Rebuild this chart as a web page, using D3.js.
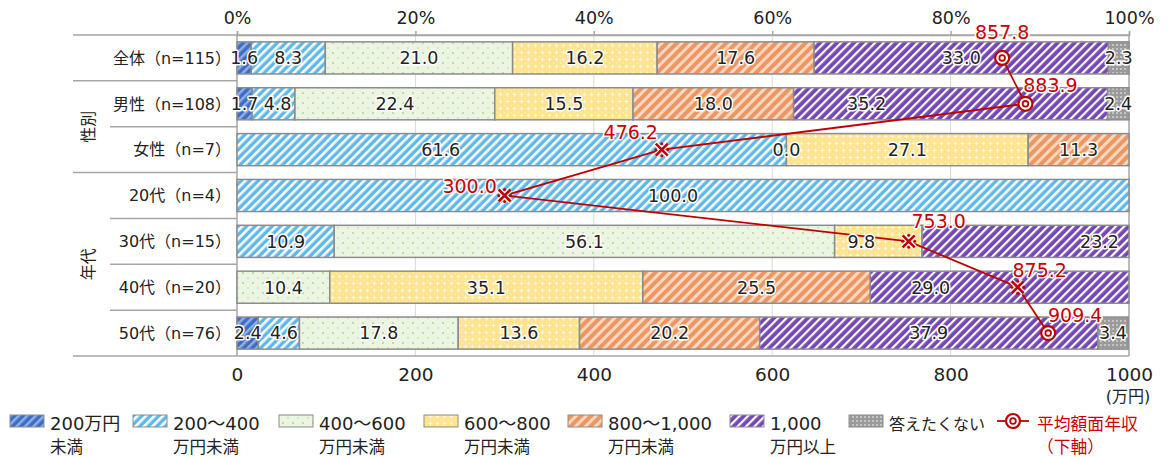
<!DOCTYPE html>
<html>
<head>
<meta charset="utf-8">
<script src="https://cdn.jsdelivr.net/npm/d3@7"></script>
<style>
body { margin: 0; background: #fff; }
text { font-family: "DejaVu Sans", "Noto Sans CJK JP", sans-serif; }
</style>
</head>
<body>
<div id="chart"></div>
<script>
let width = 1167;
let height = 457;

// data
let rowLabels = ["全体（n=115）", "男性（n=108）", "女性（n=7）", "20代（n=4）", "30代（n=15）", "40代（n=20）", "50代（n=76）"];
let under200 = [1.6, 1.7, null, null, null, null, 2.4];
let from200 = [8.3, 4.8, 61.6, 100.0, 10.9, null, 4.6];
let from400 = [21.0, 22.4, 0.0, null, 56.1, 10.4, 17.8];
let from600 = [16.2, 15.5, 27.1, null, 9.8, 35.1, 13.6];
let from800 = [17.6, 18.0, 11.3, null, null, 25.5, 20.2];
let over1000 = [33.0, 35.2, null, null, 23.2, 29.0, 37.9];
let noAnswer = [2.3, 2.4, null, null, null, null, 3.4];
let avgIncome = [857.8, 883.9, 476.2, 300.0, 753.0, 875.2, 909.4];
let markerType = ["double", "double", "asterisk", "asterisk", "asterisk", "asterisk", "double"];
let pctTicks = [0, 20, 40, 60, 80, 100];
let yenTicks = [0, 200, 400, 600, 800, 1000];
let legendLine1 = ["200万円", "200～400", "400～600", "600～800", "800～1,000", "1,000", "答えたくない"];
let legendLine2 = ["未満", "万円未満", "万円未満", "万円未満", "万円未満", "万円以上", ""];
let groups = [{name: "性別", from: 1, to: 2}, {name: "年代", from: 3, to: 6}];

let series = [under200, from200, from400, from600, from800, over1000, noAnswer];

// offsets of the red average labels from their markers
let avgLabelOffset = [[0, -26], [25, -19], [-31, -17], [-35, -9], [30, -20], [22, -17], [27, -18]];
// value labels that were moved by hand in the original (row-series: px)
let labelNudge = {"1-1": 4, "1-5": -84, "2-1": -71, "3-1": -10, "4-3": -17, "4-5": 74, "5-5": -69, "6-1": 5};
let legendX = [10, 133, 279, 424, 568, 730, 849];

let svg = d3.select("#chart").append("svg")
    .attr("width", width)
    .attr("height", height);

let defs = svg.append("defs");

function stripePattern(id, bg, fg, size, stripe){
    let p = defs.append("pattern")
        .attr("id", id)
        .attr("patternUnits", "userSpaceOnUse")
        .attr("width", size).attr("height", size)
        .attr("patternTransform", "rotate(45)");
    p.append("rect").attr("width", size).attr("height", size).attr("fill", bg);
    p.append("rect").attr("width", stripe).attr("height", size).attr("fill", fg);
}
stripePattern("p0", "#3e6cc4", "#8fb0e6", 6, 2.5);
stripePattern("p1", "#5db9ec", "#ffffff", 6, 2.6);
stripePattern("p4", "#ec9763", "#fbd7bf", 7, 3);
stripePattern("p5", "#7446b8", "#ffffff", 6, 2.2);

// dots on light green
let pg = defs.append("pattern").attr("id", "p2")
    .attr("patternUnits", "userSpaceOnUse").attr("width", 10).attr("height", 10);
pg.append("rect").attr("width", 10).attr("height", 10).attr("fill", "#ebf5e2");
pg.append("circle").attr("cx", 3).attr("cy", 3).attr("r", 0.9).attr("fill", "#a9d18e");
pg.append("circle").attr("cx", 8).attr("cy", 8).attr("r", 0.9).attr("fill", "#c3e0ae");

// lattice on yellow
let py = defs.append("pattern").attr("id", "p3")
    .attr("patternUnits", "userSpaceOnUse").attr("width", 7).attr("height", 7);
py.append("rect").attr("width", 7).attr("height", 7).attr("fill", "#ffe38f");
py.append("path").attr("d", "M3.5,1.5 L3.5,5.5 M1.5,3.5 L5.5,3.5").attr("stroke", "#fff7dc").attr("stroke-width", 1.2);
py.append("circle").attr("cx", 0).attr("cy", 0).attr("r", 1).attr("fill", "#fff7dc");

// dotted grey
let pgr = defs.append("pattern").attr("id", "p6")
    .attr("patternUnits", "userSpaceOnUse").attr("width", 4).attr("height", 4);
pgr.append("rect").attr("width", 4).attr("height", 4).attr("fill", "#9a9a9a");
pgr.append("rect").attr("x", 0).attr("y", 0).attr("width", 2).attr("height", 2).attr("fill", "#c4c4c4");

let xPct = d3.scaleLinear().domain([0, 100]).range([237, 1129]);
let xYen = d3.scaleLinear().domain([0, 1000]).range([237, 1129]);
let y = d3.scaleBand().domain(rowLabels).range([35, 356]).paddingInner(0.3).paddingOuter(0.15);
let step = y.step();
let rowTop = i => 35 + i * step;

// gridlines
svg.append("g").selectAll("line")
    .data(pctTicks.slice(1, -1))
    .enter().append("line")
    .attr("x1", d => xPct(d)).attr("x2", d => xPct(d))
    .attr("y1", 35).attr("y2", 356)
    .attr("stroke", "#d9d9d9").attr("stroke-width", 1);

// table lines on the left
let fullLines = [0, 1, 3, 7];
for(let i = 0; i <= rowLabels.length; i++){
    svg.append("line")
        .attr("x1", fullLines.includes(i) ? 73 : 110)
        .attr("x2", i == 0 || i == 7 ? 1129 : 237)
        .attr("y1", rowTop(i)).attr("y2", rowTop(i))
        .attr("stroke", "#a6a6a6").attr("stroke-width", 1.5);
}
svg.append("line").attr("x1", 237).attr("x2", 237).attr("y1", 35).attr("y2", 356)
    .attr("stroke", "#a6a6a6").attr("stroke-width", 1.5);
svg.append("line").attr("x1", 1129).attr("x2", 1129).attr("y1", 35).attr("y2", 356)
    .attr("stroke", "#a6a6a6").attr("stroke-width", 1.5);

// row labels
svg.append("g").selectAll("text")
    .data(rowLabels)
    .enter().append("text")
    .attr("x", 231)
    .attr("y", d => y(d) + y.bandwidth() / 2)
    .attr("dy", "0.36em")
    .attr("text-anchor", "end")
    .attr("font-size", 16)
    .attr("fill", "#222")
    .text(d => d);

groups.forEach(g => {
    let cy = (rowTop(g.from) + rowTop(g.to + 1)) / 2;
    svg.append("text")
        .attr("transform", `translate(88,${cy}) rotate(-90)`)
        .attr("text-anchor", "middle")
        .attr("dy", "0.36em")
        .attr("font-size", 16)
        .attr("fill", "#222")
        .text(g.name);
});

// stacked bars
let segs = [];
rowLabels.forEach((r, i) => {
    let acc = 0;
    series.forEach((s, k) => {
        let v = s[i];
        if(v === null) return;
        segs.push({row: r, i: i, k: k, v: v, x0: acc, x1: acc + v});
        acc += v;
    });
});

svg.append("g").selectAll("rect")
    .data(segs.filter(d => d.v > 0))
    .enter().append("rect")
    .attr("x", d => xPct(d.x0))
    .attr("y", d => y(d.row))
    .attr("width", d => xPct(d.x1) - xPct(d.x0))
    .attr("height", y.bandwidth())
    .attr("fill", d => `url(#p${d.k})`)
    .attr("stroke", "#8c8c8c")
    .attr("stroke-width", 1.5);

// top axis
let topAxis = svg.append("g")
    .attr("transform", "translate(0,35)")
    .call(d3.axisTop(xPct).tickValues(pctTicks).tickFormat(d => d + "%").tickSize(4).tickPadding(7));
topAxis.selectAll("path, line").attr("stroke", "#a6a6a6").attr("stroke-width", 1.5);
topAxis.selectAll("text").attr("font-size", 17.5).attr("fill", "#222")
    .style("font-family", '"DejaVu Sans", sans-serif');

// bottom axis
let botAxis = svg.append("g")
    .attr("transform", "translate(0,356)")
    .call(d3.axisBottom(xYen).tickValues(yenTicks).tickFormat(d3.format("d")).tickSize(0).tickPadding(12));
botAxis.select("path").remove();
botAxis.selectAll("text").attr("font-size", 18.5).attr("fill", "#222")
    .style("font-family", '"DejaVu Sans", sans-serif');
svg.append("text").attr("x", 1128).attr("y", 402)
    .attr("text-anchor", "middle").attr("font-size", 16).attr("fill", "#222")
    .text("(万円)");

// average line
let pts = avgIncome.map((v, i) => [xYen(v), y(rowLabels[i]) + y.bandwidth() / 2]);
svg.append("path")
    .attr("d", d3.line()(pts))
    .attr("fill", "none")
    .attr("stroke", "#c00000")
    .attr("stroke-width", 1.8);

// value labels
svg.append("g").selectAll("text")
    .data(segs)
    .enter().append("text")
    .attr("x", d => xPct((d.x0 + d.x1) / 2) + (labelNudge[d.i + "-" + d.k] || 0))
    .attr("y", d => y(d.row) + y.bandwidth() / 2)
    .attr("dy", "0.36em")
    .attr("text-anchor", "middle")
    .attr("font-size", 17.5)
    .attr("fill", "#222")
    .attr("stroke", "#fff")
    .attr("stroke-width", 3)
    .attr("stroke-linejoin", "round")
    .attr("paint-order", "stroke")
    .text(d => d.v.toFixed(1));

// markers
function drawMarker(g, type, cx, cy){
    if(type == "double"){
        g.append("circle").attr("cx", cx).attr("cy", cy).attr("r", 7)
            .attr("fill", "#fff").attr("stroke", "#c00000").attr("stroke-width", 2.2);
        g.append("circle").attr("cx", cx).attr("cy", cy).attr("r", 2.8)
            .attr("fill", "#fff").attr("stroke", "#c00000").attr("stroke-width", 1.8);
    } else {
        let s = 6;
        let d = `M${cx - s},${cy - s}L${cx + s},${cy + s}M${cx - s},${cy + s}L${cx + s},${cy - s}`;
        g.append("path").attr("d", d).attr("stroke", "#fff").attr("stroke-width", 5);
        g.append("path").attr("d", d).attr("stroke", "#c00000").attr("stroke-width", 2.6);
        [[0, -6], [0, 6], [-6, 0], [6, 0]].forEach(o => {
            g.append("circle").attr("cx", cx + o[0]).attr("cy", cy + o[1]).attr("r", 1.5).attr("fill", "#c00000");
        });
    }
}
let mg = svg.append("g");
pts.forEach((p, i) => drawMarker(mg, markerType[i], p[0], p[1]));

svg.append("g").selectAll("text")
    .data(avgIncome)
    .enter().append("text")
    .attr("x", (d, i) => pts[i][0] + avgLabelOffset[i][0])
    .attr("y", (d, i) => pts[i][1] + avgLabelOffset[i][1])
    .attr("dy", "0.36em")
    .attr("text-anchor", "middle")
    .attr("font-size", 19)
    .attr("fill", "#cc0000")
    .attr("stroke", "#fff")
    .attr("stroke-width", 3)
    .attr("stroke-linejoin", "round")
    .attr("paint-order", "stroke")
    .text(d => d.toFixed(1));

// legend
let leg = svg.append("g");
legendLine1.forEach((t, k) => {
    let lx = legendX[k];
    leg.append("rect").attr("x", lx).attr("y", 415).attr("width", 34).attr("height", 12)
        .attr("fill", `url(#p${k})`).attr("stroke", "#8c8c8c").attr("stroke-width", 1);
    leg.append("text").attr("x", lx + 40).attr("y", 430)
        .attr("font-size", k == 6 ? 16 : 18).attr("fill", "#222").text(t);
    if(legendLine2[k] != "")
        leg.append("text").attr("x", lx + 40).attr("y", 453).attr("font-size", 16.5).attr("fill", "#222").text(legendLine2[k]);
});
leg.append("line").attr("x1", 997).attr("x2", 1029).attr("y1", 421).attr("y2", 421)
    .attr("stroke", "#c00000").attr("stroke-width", 1.8);
drawMarker(leg, "double", 1013, 421);
leg.append("text").attr("x", 1037).attr("y", 430).attr("font-size", 16.8).attr("fill", "#cc0000").text("平均額面年収");
leg.append("text").attr("x", 1037).attr("y", 453).attr("font-size", 16.8).attr("fill", "#cc0000").text("（下軸）");
</script>
</body>
</html>
